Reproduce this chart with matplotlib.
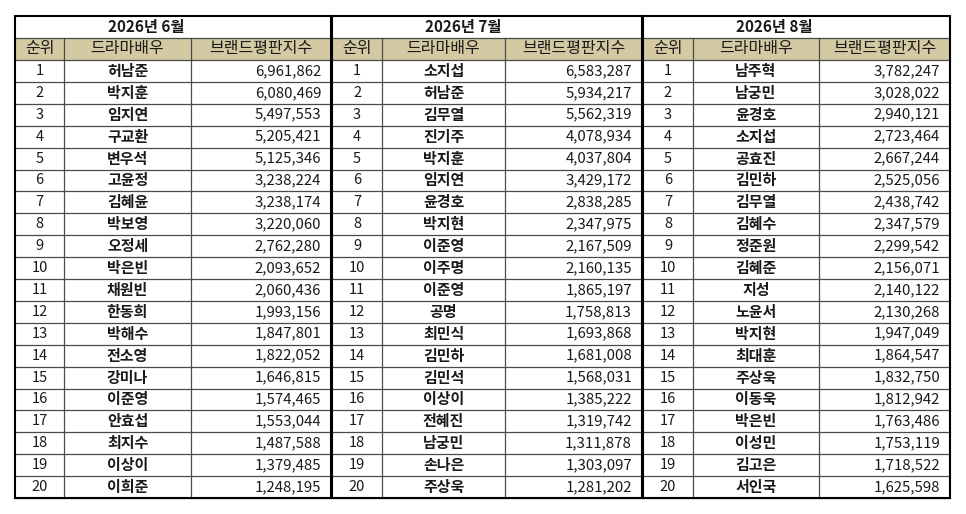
import matplotlib
matplotlib.use("Agg")
import matplotlib.pyplot as plt
import matplotlib.patches as mpatches

plt.rcParams['font.family'] = ['Noto Sans CJK KR', 'DejaVu Sans']

# ---------------------------------------------------------------
# data
# ---------------------------------------------------------------
MONTHS = ["2026년 6월", "2026년 7월", "2026년 8월"]
HEADERS = ["순위", "드라마배우", "브랜드평판지수"]
RANKS = list(range(1, 21))

NAMES_JUN = ["허남준", "박지훈", "임지연", "구교환", "변우석", "고윤정", "김혜윤",
             "박보영", "오정세", "박은빈", "채원빈", "한동희", "박해수", "전소영",
             "강미나", "이준영", "안효섭", "최지수", "이상이", "이희준"]
SCORES_JUN = [6961862, 6080469, 5497553, 5205421, 5125346, 3238224, 3238174,
              3220060, 2762280, 2093652, 2060436, 1993156, 1847801, 1822052,
              1646815, 1574465, 1553044, 1487588, 1379485, 1248195]

NAMES_JUL = ["소지섭", "허남준", "김무열", "진기주", "박지훈", "임지연", "윤경호",
             "박지현", "이준영", "이주명", "이준영", "공명", "최민식", "김민하",
             "김민석", "이상이", "전혜진", "남궁민", "손나은", "주상욱"]
SCORES_JUL = [6583287, 5934217, 5562319, 4078934, 4037804, 3429172, 2838285,
              2347975, 2167509, 2160135, 1865197, 1758813, 1693868, 1681008,
              1568031, 1385222, 1319742, 1311878, 1303097, 1281202]

NAMES_AUG = ["남주혁", "남궁민", "윤경호", "소지섭", "공효진", "김민하", "김무열",
             "김혜수", "정준원", "김혜준", "지성", "노윤서", "박지현", "최대훈",
             "주상욱", "이동욱", "박은빈", "이성민", "김고은", "서인국"]
SCORES_AUG = [3782247, 3028022, 2940121, 2723464, 2667244, 2525056, 2438742,
              2347579, 2299542, 2156071, 2140122, 2130268, 1947049, 1864547,
              1832750, 1812942, 1763486, 1753119, 1718522, 1625598]

# ---------------------------------------------------------------
# layout (pixel coordinates, y grows downward)
# ---------------------------------------------------------------
COL_EDGES = [
    [15, 64, 191, 331],
    [332, 382, 505, 642],
    [643, 693, 819, 950],
]
TOP = 16
TITLE_H = 22
HEAD_H = 22
ROW_H = 21.9
HEAD_COLOR = "#d3c9a2"
GRID_COLOR = "#4a4a4a"
TEXT_COLOR = "#1a1a1a"

fig = plt.figure(figsize=(9.66, 5.14), dpi=100)
ax = fig.add_axes([0, 0, 1, 1])
ax.set_xlim(0, 966)
ax.set_ylim(514, 0)
ax.axis("off")

panels = [(NAMES_JUN, SCORES_JUN), (NAMES_JUL, SCORES_JUL), (NAMES_AUG, SCORES_AUG)]

for month, (names, scores), edges in zip(MONTHS, panels, COL_EDGES):
    x0, x1, x2, x3 = edges
    y_head = TOP + TITLE_H
    y_body = y_head + HEAD_H
    y_end = y_body + ROW_H * len(names)

    # header fill
    ax.add_patch(mpatches.Rectangle((x0, y_head), x3 - x0, HEAD_H,
                                    facecolor=HEAD_COLOR, edgecolor="none", zorder=1))

    # title
    ax.text(x0 + 131, TOP + TITLE_H / 2, month, ha="center", va="center",
            fontsize=11, fontweight="bold", color=TEXT_COLOR, zorder=3)

    # column headers
    for (a, b), label in zip([(x0, x1), (x1, x2), (x2, x3)], HEADERS):
        ax.text((a + b) / 2, y_head + HEAD_H / 2, label, ha="center", va="center",
                fontsize=11.5, color=TEXT_COLOR, zorder=3)

    # rows
    for i, (rank, name, score) in enumerate(zip(RANKS, names, scores)):
        yc = y_body + ROW_H * (i + 0.5)
        ax.text((x0 + x1) / 2, yc, str(rank), ha="center", va="center",
                fontsize=10.5, color=TEXT_COLOR, zorder=3)
        ax.text((x1 + x2) / 2, yc, name, ha="center", va="center",
                fontsize=10.8, fontweight="bold", color=TEXT_COLOR, zorder=3)
        ax.text(x3 - 10, yc, "{:,}".format(score), ha="right", va="center",
                fontsize=10.8, color=TEXT_COLOR, zorder=3)

    # horizontal grid
    ax.plot([x0, x3], [y_head, y_head], color=GRID_COLOR, lw=0.9, zorder=2)
    for i in range(len(names) + 1):
        y = y_body + ROW_H * i
        ax.plot([x0, x3], [y, y], color=GRID_COLOR, lw=0.9, zorder=2)

    # vertical grid
    for x in (x1, x2):
        ax.plot([x, x], [y_head, y_end], color=GRID_COLOR, lw=0.9, zorder=2)

    # outer border
    ax.add_patch(mpatches.Rectangle((x0, TOP), x3 - x0, y_end - TOP,
                                    facecolor="none", edgecolor="black", lw=1.5, zorder=4))

fig.savefig("out.png", dpi=100)
